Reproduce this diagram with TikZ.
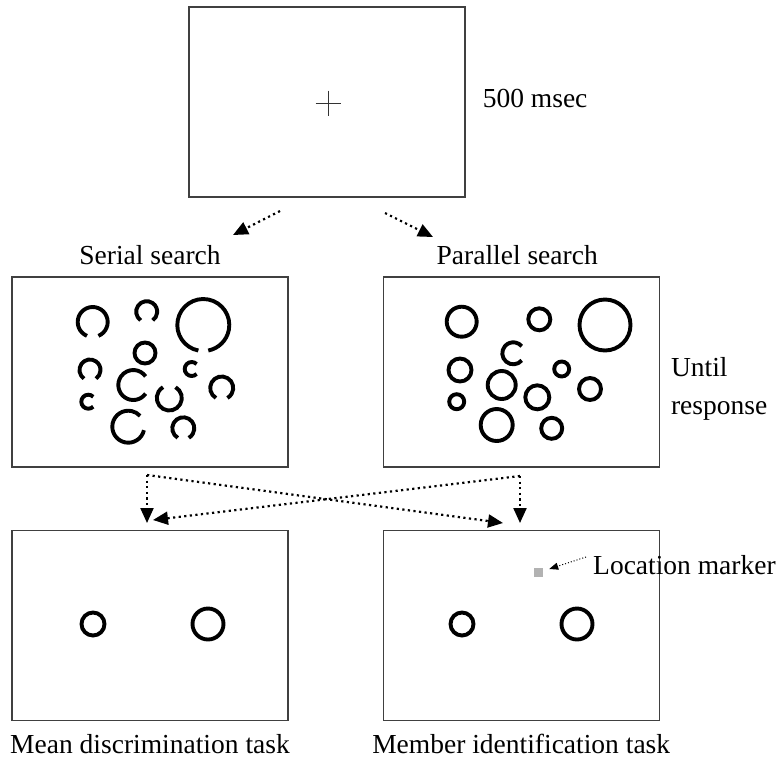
\documentclass[tikz,border=0pt]{standalone}
\usepackage{fontspec}
\setmainfont{Liberation Serif}
\usetikzlibrary{arrows, positioning}
\usetikzlibrary{arrows.meta}

\begin{document}
\begin{tikzpicture}[
	x=1pt, y=-1pt,
	font=\fontsize{27.5}{38}\selectfont,
	>={Triangle[length=15pt,width=13pt]},
	screen/.style={draw=black!75, line width=1.2pt, minimum width=276pt, minimum height=190pt, inner sep=0pt},
	ring/.style={line width=3.9pt},
	dotarrow/.style={->, line width=2.2pt, dash pattern=on 2.2pt off 3.4pt},
	caption/.style={inner sep=0pt}
]
\useasboundingbox (0,0) rectangle (778,764);

\node[screen] (fix) at (327,102) {};
\node[screen] (serial) at (150,372) {};
\node[screen] (parallel) [right=94pt of serial] {};
\node[screen] (mean) [below=62pt of serial] {};
\node[screen] (member) [right=94pt of mean] {};

% fixation cross
\draw[line width=1pt, black!80] (315.5,103) -- (340.5,103) (328,90.5) -- (328,115.5);

\node[caption] (dur1) [right=17pt of fix, yshift=4pt] {500 msec};
\node[caption, align=left] (dur2) [right=11pt of parallel, yshift=-17pt] {Until\\response};
\node[caption] (lserial) [above=11pt of serial] {Serial search};
\node[caption] (lparallel) [above=11pt of parallel, xshift=-4pt] {Parallel search};
\node[caption] (lmean) [below=13pt of mean] {Mean discrimination task};
\node[caption] (lmember) [below=13pt of member] {Member identification task};

% serial search display
\draw[ring] (92.7,322) ++(112.5:15) arc[start angle=112.5, end angle=427.5, radius=15];
\draw[ring] (146.7,311.7) ++(125:10.5) arc[start angle=125, end angle=415, radius=10.5];
\draw[ring] (203.3,325) ++(101:26) arc[start angle=101, end angle=439, radius=26];
\draw[ring] (145,353) circle[radius=10.5];
\draw[ring] (90,370) ++(125:10.5) arc[start angle=125, end angle=415, radius=10.5];
\draw[ring] (191.7,369) ++(45:7) arc[start angle=45, end angle=315, radius=7];
\draw[ring] (133.3,385) ++(35:15) arc[start angle=35, end angle=325, radius=15];
\draw[ring] (169.3,398) ++(300:12.5) arc[start angle=300, end angle=600, radius=12.5];
\draw[ring] (221.7,388) ++(120:11.5) arc[start angle=120, end angle=420, radius=11.5];
\draw[ring] (88.3,401.7) ++(45:7) arc[start angle=45, end angle=315, radius=7];
\draw[ring] (128.3,426.7) ++(12.5:16) arc[start angle=12.5, end angle=317.5, radius=16];
\draw[ring] (183.3,428.3) ++(120:11) arc[start angle=120, end angle=420, radius=11];

% parallel search display
\draw[ring] (461.7,321.7) circle[radius=15];
\draw[ring] (539.3,319.3) circle[radius=11];
\draw[ring] (605,325) circle[radius=25.5];
\draw[ring] (513.3,353.3) ++(40:11) arc[start angle=40, end angle=320, radius=11];
\draw[ring] (460,370) circle[radius=11.5];
\draw[ring] (561.7,369) circle[radius=7.5];
\draw[ring] (501.7,385) circle[radius=14];
\draw[ring] (537.3,397.3) circle[radius=12];
\draw[ring] (590,389) circle[radius=11];
\draw[ring] (456.7,401.7) circle[radius=7.5];
\draw[ring] (496.7,425) circle[radius=16];
\draw[ring] (551.7,428.3) circle[radius=10.5];

% test displays
\draw[ring] (93,624) circle[radius=11.5];
\draw[ring] (208,624) circle[radius=15.5];
\draw[ring] (462,624) circle[radius=11.5];
\draw[ring] (577,624) circle[radius=15.5];

\node[fill=black!30, minimum size=9pt, inner sep=0pt] (mark) at (538,572) {};
\node[caption, anchor=west] (lmark) at (593,565) {Location marker};
\draw[->, >={Triangle[length=9pt,width=7pt]}, line width=1pt, dash pattern=on 1pt off 2pt]
	([shift={(-7pt,8pt)}]lmark.west) -- ([shift={(6.5pt,3pt)}]mark.east);

% fixation -> search
\coordinate (fl) at (280,211);
\coordinate (fr) at (385,213);
\coordinate (sl) at (233,235);
\coordinate (pr) at (433,237);
\draw[dotarrow] (fl) -- (sl);
\draw[dotarrow] (fr) -- (pr);

% search -> task
\coordinate (sj) at (147,475);
\coordinate (pj) at (520,476);
\coordinate (m1) at (147,523);
\coordinate (m2) at (153,520);
\coordinate (n1) at (520,523);
\coordinate (n2) at (503,523);
\draw[dotarrow] (sj) -- (m1);
\draw[dotarrow] (sj) -- (n2);
\draw[dotarrow] (pj) -- (n1);
\draw[dotarrow] (pj) -- (m2);
\end{tikzpicture}
\end{document}
